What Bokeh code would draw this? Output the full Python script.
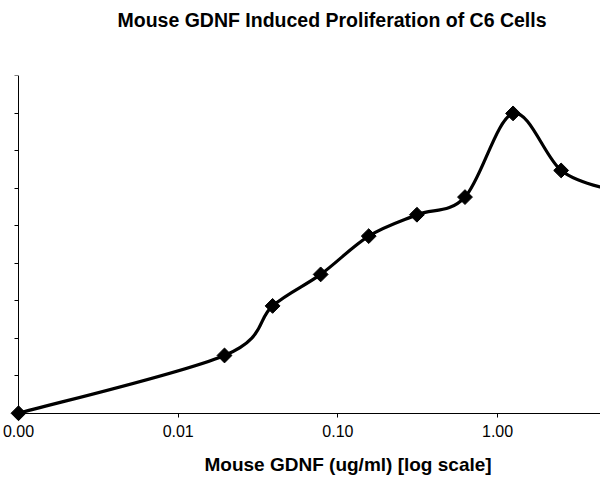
import numpy as np
from bokeh.plotting import figure
from bokeh.models import Range1d, FixedTicker, PrintfTickFormatter, LogAxis, Title
from bokeh.embed import file_html
from bokeh.resources import INLINE

# ---- data ----
conc = [0.001, 0.0195, 0.039, 0.078, 0.156, 0.3125, 0.625, 1.25, 2.5, 5.0]
prolif = [0.0, 15.4, 28.6, 37.0, 47.2, 52.9, 57.6, 79.9, 64.7, 59.6]
x_ticks = [0.001, 0.01, 0.1, 1.0]
y_ticks = [0, 10, 20, 30, 40, 50, 60, 70, 80, 90]
title_text = "Mouse GDNF Induced Proliferation of C6 Cells"
x_title = "Mouse GDNF (ug/ml) [log scale]"

FONT = "Liberation Sans"
# ranges: a little room left of / below the origin so the first marker is not clipped
X_START = 10 ** -3.1127
X_END = 10 ** 0.6444
Y_START = -2.2
Y_END = 90
TOP = 75
BOTTOM = 59

p = figure(width=600, height=480, x_axis_type="log",
           x_range=Range1d(X_START, X_END), y_range=Range1d(Y_START, Y_END),
           output_backend="svg", toolbar_location=None,
           min_border_left=0, min_border_right=0,
           min_border_top=TOP, min_border_bottom=BOTTOM,
           title=title_text)
p.background_fill_color = "white"
p.border_fill_color = "white"
p.outline_line_color = None
p.xgrid.visible = False
p.ygrid.visible = False

# title (outermost in the top panel), with an empty spacer between it and the frame
p.title.text_font = FONT
p.title.text_font_size = "19.5px"
p.title.text_font_style = "bold"
p.title.text_color = "black"
p.title.align = "left"
p.title.offset = 117
p.title.vertical_align = "top"
p.title.standoff = 14
p.add_layout(Title(text=" ", text_font_size="1px", standoff=33), "above")

# x axis line + ticks, drawn at y = 0
xa = p.xaxis[0]
xa.ticker = FixedTicker(ticks=x_ticks)
xa.formatter = PrintfTickFormatter(format="%.2f")
xa.fixed_location = 0
xa.bounds = (x_ticks[0], X_END)
xa.minor_tick_line_color = None
xa.major_tick_in = 0
xa.major_tick_out = 4
xa.major_label_overrides = {t: "" for t in x_ticks}
xa.axis_line_color = "black"
xa.major_tick_line_color = "black"
xa.level = "underlay"

# x tick labels
xl = LogAxis(ticker=FixedTicker(ticks=x_ticks), formatter=PrintfTickFormatter(format="%.2f"),
             axis_line_color=None, major_tick_line_color=None, minor_tick_line_color=None,
             major_tick_in=0, major_tick_out=0, major_label_standoff=3,
             major_label_text_font=FONT, major_label_text_font_size="16px",
             major_label_text_color="black")
p.add_layout(xl, "below")

# y axis (its labels are cut off in the reference)
ya = p.yaxis[0]
ya.ticker = FixedTicker(ticks=y_ticks)
ya.major_label_overrides = {t: "" for t in y_ticks}
ya.major_label_standoff = 0
ya.fixed_location = x_ticks[0]
ya.bounds = (y_ticks[0], y_ticks[-1])
ya.minor_tick_line_color = None
ya.major_tick_in = 0
ya.major_tick_out = 4
ya.axis_line_color = "black"
ya.major_tick_line_color = "black"
ya.level = "underlay"

# x axis title: spacer, then the title itself (off-centre as in the reference)
p.add_layout(Title(text=" ", text_font_size="1px", standoff=9), "below")
p.add_layout(Title(text=x_title, align="left", offset=204, vertical_align="bottom",
                   text_font=FONT, text_font_size="19px", text_font_style="bold",
                   text_color="black", standoff=0), "below")

# smoothed line (Catmull-Rom style cubic Bezier segments between the data points,
# built in log10(x) space because the x scale is logarithmic)
lx = np.log10(np.array(conc))
yy = np.array(prolif)
n = len(lx)
x0, y0, x1, y1, cx0, cy0, cx1, cy1 = [], [], [], [], [], [], [], []
for i in range(n - 1):
    a = max(i - 1, 0)
    d = min(i + 2, n - 1)
    x0.append(conc[i]); y0.append(prolif[i])
    x1.append(conc[i + 1]); y1.append(prolif[i + 1])
    cx0.append(10 ** (lx[i] + (lx[i + 1] - lx[a]) / 6.0))
    cy0.append(yy[i] + (yy[i + 1] - yy[a]) / 6.0)
    cx1.append(10 ** (lx[i + 1] - (lx[d] - lx[i]) / 6.0))
    cy1.append(yy[i + 1] - (yy[d] - yy[i]) / 6.0)

p.bezier(x0=x0, y0=y0, x1=x1, y1=y1, cx0=cx0, cy0=cy0, cx1=cx1, cy1=cy1,
         line_color="black", line_width=3.2)
p.scatter(conc, prolif, marker="square", angle=np.pi / 4, size=10.5,
          fill_color="black", line_color="black")

open("out.html", "w").write(file_html(p, INLINE))
